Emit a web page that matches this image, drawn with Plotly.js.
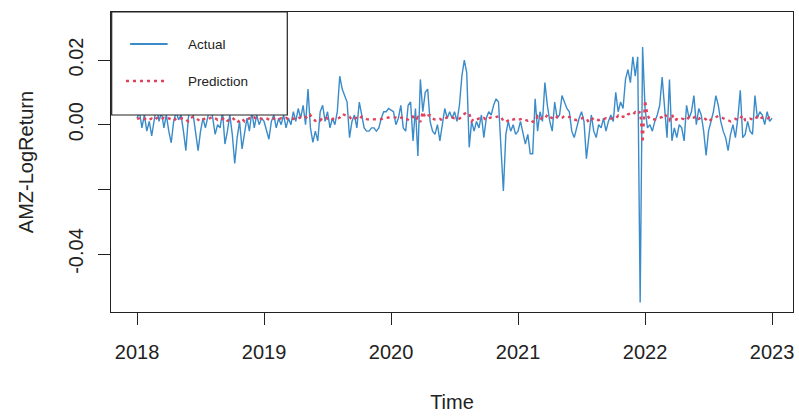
<!DOCTYPE html>
<html>
<head>
<meta charset="utf-8">
<script src="https://cdn.plot.ly/plotly-3.0.1.min.js"></script>
<style>html,body{margin:0;padding:0;background:#fff;}#chart{width:799px;height:416px;}</style>
</head>
<body>
<div id="chart"></div>
<script>
// Weekly series, start 2018, frequency 52
var startYear = 2018;
var frequency = 52;

var actual2018 = [0.002, 0.004, -0.001, 0.003, -0.002, 0.001, -0.0035, 0.002, 0.006, 0.001,
  0.004, -0.001, 0.003, -0.002, -0.0056, 0.001, 0.004, 0.0015, 0.003, -0.002,
  -0.008, 0.002, 0.007, 0.003, -0.003, -0.008, -0.002, 0.002, -0.001, 0.003,
  0.006, 0.002, -0.003, 0.000, -0.001, 0.004, -0.006, -0.002, 0.003, -0.003,
  -0.012, -0.004, 0.001, -0.0075, -0.003, 0.002, -0.002, 0.004, -0.001, 0.003,
  0.000, 0.002];
var actual2019 = [0.001, -0.002, -0.0045, 0.001, 0.003, -0.001, 0.002, 0.0, 0.003, -0.001,
  0.002, 0.000, 0.004, 0.001, 0.005, 0.002, 0.006, 0.000, 0.011, -0.001,
  -0.0055, -0.002, -0.005, 0.004, 0.006, 0.001, 0.004, -0.001, 0.002, 0.000,
  0.004, 0.015, 0.011, 0.009, 0.007, -0.004, 0.001, 0.003, -0.001, 0.007,
  0.003, -0.001, -0.002, -0.002, -0.001, -0.001, -0.002, -0.001, 0.002, 0.004,
  0.004, 0.005];
var actual2020 = [0.0045, 0.004, 0.0, 0.002, 0.006, -0.001, -0.002, 0.006, 0.007, -0.005,
  0.005, -0.0097, 0.014, 0.004, 0.010, 0.011, 0.001, -0.002, -0.003, 0.0,
  -0.005, 0.0, 0.005, 0.002, 0.004, 0.002, 0.004, 0.001, 0.006, 0.015,
  0.020, 0.016, -0.007, 0.001, -0.002, 0.001, -0.001, 0.003, -0.004, 0.002,
  0.004, 0.003, 0.006, 0.008, 0.007, -0.007, -0.0205, -0.003, 0.001, -0.002,
  0.000, -0.003];
var actual2021 = [-0.002, 0.001, -0.003, -0.006, -0.003, -0.009, -0.009, 0.008, -0.002, 0.004,
  0.001, 0.013, 0.006, 0.001, -0.002, 0.007, 0.002, 0.003, 0.009, 0.007,
  0.005, 0.004, -0.002, -0.004, -0.001, 0.002, 0.004, 0.001, -0.0105, -0.003,
  0.003, -0.002, -0.004, 0.0, -0.001, 0.002, -0.002, 0.001, 0.003, 0.001,
  0.010, 0.004, 0.007, 0.005, 0.014, 0.017, 0.013, 0.021, 0.015, 0.021,
  -0.055, 0.024];
var actual2022 = [0.005, -0.001, 0.0, -0.002, 0.001, 0.003, 0.006, 0.0147, 0.006, -0.004,
  0.014, -0.005, -0.001, -0.004, 0.000, -0.001, -0.005, 0.006, 0.002, 0.004,
  0.009, 0.0, 0.005, 0.003, -0.002, -0.0095, -0.002, 0.001, 0.004, 0.009,
  0.006, 0.001, -0.002, -0.004, -0.008, -0.003, 0.000, -0.004, 0.002, 0.0106,
  -0.004, -0.003, 0.001, -0.002, -0.003, 0.009, 0.002, 0.004, 0.003, 0.000,
  0.004, 0.001, 0.002];

var pred2018 = [0.0018, 0.0020, 0.0022, 0.0017, 0.0021, 0.0016, 0.0019, 0.0014, 0.0020, 0.0023,
  0.0018, 0.0021, 0.0017, 0.0020, 0.0016, 0.0012, 0.0019, 0.0022, 0.0019, 0.0021,
  0.0016, 0.0010, 0.0020, 0.0025, 0.0021, 0.0015, 0.0010, 0.0016, 0.0020, 0.0017,
  0.0021, 0.0024, 0.0020, 0.0015, 0.0018, 0.0017, 0.0022, 0.0012, 0.0016, 0.0021,
  0.0015, 0.0006, 0.0014, 0.0019, 0.0010, 0.0015, 0.0020, 0.0016, 0.0022, 0.0017,
  0.0021, 0.0018];
var pred2019 = [0.0020, 0.0019, 0.0016, 0.0013, 0.0019, 0.0021, 0.0017, 0.0020, 0.0018, 0.0021,
  0.0017, 0.0020, 0.0018, 0.0022, 0.0019, 0.0023, 0.0020, 0.0024, 0.0018, 0.0029,
  0.0017, 0.0012, 0.0016, 0.0013, 0.0022, 0.0024, 0.0019, 0.0022, 0.0017, 0.0020,
  0.0018, 0.0022, 0.0033, 0.0029, 0.0027, 0.0025, 0.0014, 0.0019, 0.0021, 0.0017,
  0.0025, 0.0021, 0.0017, 0.0016, 0.0016, 0.0017, 0.0017, 0.0016, 0.0017, 0.0020,
  0.0022, 0.0022];
var pred2020 = [0.0023, 0.0022, 0.0022, 0.0018, 0.0020, 0.0024, 0.0017, 0.0016, 0.0024, 0.0025,
  0.0013, 0.0023, 0.0008, 0.0040, 0.0022, 0.0028, 0.0029, 0.0019, 0.0016, 0.0015,
  0.0018, 0.0013, 0.0018, 0.0023, 0.0020, 0.0022, 0.0020, 0.0022, 0.0019, 0.0024,
  0.0033, 0.0038, 0.0034, 0.0011, 0.0019, 0.0016, 0.0019, 0.0017, 0.0021, 0.0014,
  0.0020, 0.0022, 0.0021, 0.0024, 0.0026, 0.0025, 0.0011, 0.0008, 0.0015, 0.0019,
  0.0016, 0.0018];
var pred2021 = [0.0015, 0.0016, 0.0019, 0.0015, 0.0012, 0.0015, 0.0009, 0.0009, 0.0026, 0.0016,
  0.0022, 0.0019, 0.0031, 0.0024, 0.0019, 0.0016, 0.0025, 0.0020, 0.0021, 0.0027,
  0.0025, 0.0023, 0.0022, 0.0016, 0.0014, 0.0017, 0.0020, 0.0022, 0.0019, 0.0007,
  0.0015, 0.0021, 0.0016, 0.0014, 0.0018, 0.0017, 0.0020, 0.0016, 0.0019, 0.0021,
  0.0019, 0.0028, 0.0022, 0.0025, 0.0023, 0.0032, 0.0035, 0.0031, 0.0039, 0.0033,
  0.0040, -0.0055];
var pred2022 = [0.0075, 0.0028, 0.0017, 0.0018, 0.0016, 0.0019, 0.0021, 0.0024, 0.0033, 0.0024,
  0.0014, 0.0032, 0.0013, 0.0017, 0.0014, 0.0018, 0.0017, 0.0013, 0.0024, 0.0020,
  0.0022, 0.0027, 0.0018, 0.0023, 0.0021, 0.0016, 0.0009, 0.0016, 0.0019, 0.0022,
  0.0027, 0.0024, 0.0019, 0.0016, 0.0014, 0.0010, 0.0015, 0.0018, 0.0014, 0.0020,
  0.0029, 0.0014, 0.0015, 0.0019, 0.0016, 0.0015, 0.0027, 0.0020, 0.0022, 0.0021,
  0.0018, 0.0022, 0.0019];

var xTickVals = [2018, 2019, 2020, 2021, 2022, 2023];
var xTickText = ["2018", "2019", "2020", "2021", "2022", "2023"];
var yTickVals = [-0.04, -0.02, 0, 0.02];
var yTickText = ["-0.04", "", "0.00", "0.02"];
var seriesNames = ["Actual", "Prediction"];

var actual = [].concat(actual2018, actual2019, actual2020, actual2021, actual2022);
var pred = [].concat(pred2018, pred2019, pred2020, pred2021, pred2022);
var t = actual.map(function (_, i) { return startYear + i / frequency; });

var blue = "#3a8bc9";
var red = "#e0415d";
var font = "Liberation Sans, Arial, Helvetica, sans-serif";

var traces = [
  { x: t, y: actual, type: "scatter", mode: "lines", name: seriesNames[0],
    line: { color: blue, width: 1.4 }, showlegend: false, hoverinfo: "x+y" },
  { x: t, y: pred, type: "scatter", mode: "lines", name: seriesNames[1],
    line: { color: red, width: 2.4, dash: "3px,4px" }, showlegend: false, hoverinfo: "x+y" }
];

var layout = {
  width: 799, height: 416,
  margin: { l: 111, r: 6, t: 12, b: 104, pad: 0 },
  paper_bgcolor: "#ffffff", plot_bgcolor: "#ffffff",
  font: { family: font, color: "#222222", size: 20 },
  showlegend: false,
  xaxis: {
    range: [2017.795, 2023.165], autorange: false,
    tickmode: "array", tickvals: xTickVals, ticktext: xTickText,
    ticks: "outside", ticklen: 12, tickwidth: 1, tickcolor: "#222",
    showline: true, linecolor: "#222", linewidth: 1, mirror: true,
    showgrid: false, zeroline: false,
    tickfont: { family: font, size: 20, color: "#222" },
    ticklabelstandoff: 10,
    title: { text: "Time", font: { family: font, size: 20, color: "#222" }, standoff: 32 }
  },
  yaxis: {
    range: [-0.05794, 0.03485], autorange: false,
    tickmode: "array", tickvals: yTickVals, ticktext: yTickText,
    tickangle: -90,
    ticks: "outside", ticklen: 12, tickwidth: 1, tickcolor: "#222",
    showline: true, linecolor: "#222", linewidth: 1, mirror: true,
    showgrid: false, zeroline: false,
    tickfont: { family: font, size: 20, color: "#222" },
    ticklabelstandoff: 7,
    title: { text: "AMZ-LogReturn", font: { family: font, size: 20, color: "#222" }, standoff: 26 }
  },
  shapes: [
    { type: "rect", xref: "paper", yref: "paper", x0: 0.001, x1: 0.2585, y0: 0.6567, y1: 1,
      fillcolor: "#ffffff", line: { color: "#222", width: 1.2 }, layer: "above" },
    { type: "line", xref: "paper", yref: "paper", x0: 0.028, x1: 0.083, y0: 0.893, y1: 0.893,
      line: { color: blue, width: 2 }, layer: "above" },
    { type: "line", xref: "paper", yref: "paper", x0: 0.022, x1: 0.083, y0: 0.770, y1: 0.770,
      line: { color: red, width: 2.4, dash: "3px,4px" }, layer: "above" }
  ],
  annotations: [
    { xref: "paper", yref: "paper", x: 0.110, y: 0.893, xanchor: "left", yanchor: "middle",
      text: seriesNames[0], showarrow: false, font: { family: font, size: 13.5, color: "#222" } },
    { xref: "paper", yref: "paper", x: 0.110, y: 0.770, xanchor: "left", yanchor: "middle",
      text: seriesNames[1], showarrow: false, font: { family: font, size: 13.5, color: "#222" } }
  ]
};

Plotly.newPlot("chart", traces, layout, { displayModeBar: false, staticPlot: true });
</script>
</body>
</html>
